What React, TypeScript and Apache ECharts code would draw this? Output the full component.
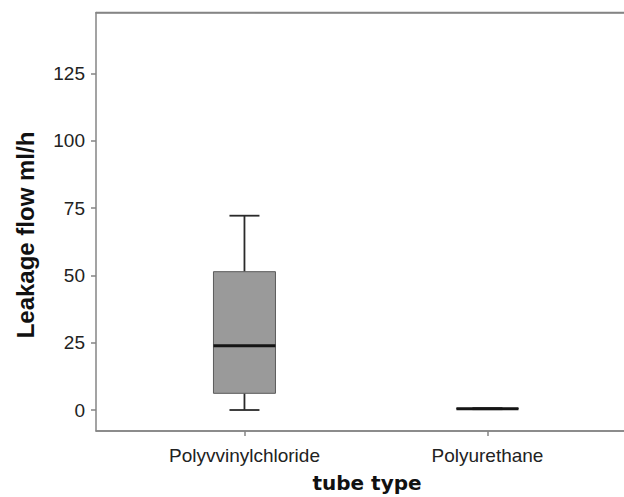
import React, { useEffect, useRef } from "react";
import * as echarts from "echarts";

const categories = ["Polyvvinylchloride", "Polyurethane"];
const whiskerLow = [0, 0.3];
const quartile1 = [6.2, 0.4];
const medians = [23.9, 0.5];
const quartile3 = [51.4, 0.6];
const whiskerHigh = [72.2, 0.7];
const yTicks = [0, 25, 50, 75, 100, 125];
const xTicks = [0, 1];

export default function App() {
  const ref = useRef<HTMLDivElement>(null);
  useEffect(() => {
    if (!ref.current) return;
    const chart = echarts.init(ref.current, undefined, { renderer: "svg" });
    const data = categories.map((_, i) => [
      i,
      whiskerLow[i],
      quartile1[i],
      medians[i],
      quartile3[i],
      whiskerHigh[i],
    ]);
    const axisColor = "#858585";
    const xMin = -0.611;
    const xMax = 1.562;
    const gridLeft = 96;
    const gridTop = 12.5;
    const gridHeight = 418.5;
    chart.setOption({
      animation: false,
      backgroundColor: "#ffffff",
      grid: {
        left: gridLeft,
        top: gridTop,
        right: 0,
        height: gridHeight,
        show: false,
        containLabel: false,
        outerBoundsMode: "none",
      },
      xAxis: [
        {
          type: "value",
          min: xMin,
          max: xMax,
          position: "bottom",
          axisLine: { show: true, onZero: false, lineStyle: { color: axisColor, width: 1.5 } },
          axisTick: { show: true, length: 5, customValues: xTicks, lineStyle: { color: axisColor, width: 1.5 } },
          axisLabel: {
            customValues: xTicks,
            formatter: (v: number) => categories[Math.round(v)] ?? "",
            margin: 15,
            color: "#222",
            fontFamily: "Liberation Sans",
            fontSize: 19,
          },
          splitLine: { show: false },
        },
        {
          type: "value",
          min: xMin,
          max: xMax,
          position: "top",
          axisLine: { show: true, onZero: false, lineStyle: { color: axisColor, width: 1.5 } },
          axisTick: { show: false },
          axisLabel: { show: false },
          splitLine: { show: false },
        },
      ],
      yAxis: {
        type: "value",
        min: -7.8,
        max: 147.7,
        axisLine: { show: true, onZero: false, lineStyle: { color: axisColor, width: 1.5 } },
        axisTick: { show: true, length: 5, customValues: yTicks, lineStyle: { color: axisColor, width: 1.5 } },
        axisLabel: {
          customValues: yTicks,
          margin: 11,
          color: "#222",
          fontFamily: "Liberation Sans",
          fontSize: 19,
        },
        splitLine: { show: false },
      },
      graphic: [
        {
          type: "line",
          shape: { x1: gridLeft, y1: gridTop, x2: 624, y2: gridTop },
          style: { stroke: axisColor, lineWidth: 1.5 },
        },
        {
          type: "line",
          shape: { x1: gridLeft, y1: gridTop + gridHeight, x2: 624, y2: gridTop + gridHeight },
          style: { stroke: axisColor, lineWidth: 1.5 },
        },
        {
          type: "text",
          x: 25,
          y: 235,
          rotation: Math.PI / 2,
          style: {
            text: "Leakage flow ml/h",
            fontFamily: "Liberation Sans",
            fontWeight: "bold",
            fontSize: 24,
            fill: "#111",
            textAlign: "center",
            textVerticalAlign: "middle",
          },
        },
        {
          type: "text",
          x: 367,
          y: 483,
          style: {
            text: "tube type",
            fontFamily: "DejaVu Sans",
            fontWeight: "bold",
            fontSize: 20,
            fill: "#111",
            textAlign: "center",
            textVerticalAlign: "middle",
          },
        },
      ],
      series: [
        {
          type: "custom",
          xAxisIndex: 0,
          data,
          encode: { x: 0, y: [1, 2, 3, 4, 5] },
          renderItem: (params: any, api: any) => {
            const cat = api.value(0);
            const pLow = api.coord([cat, api.value(1)]);
            const pQ1 = api.coord([cat, api.value(2)]);
            const pMed = api.coord([cat, api.value(3)]);
            const pQ3 = api.coord([cat, api.value(4)]);
            const pHigh = api.coord([cat, api.value(5)]);
            const cx = pMed[0];
            const boxW = 62;
            const capW = 30;
            const lineStyle = { stroke: "#2a2a2a", lineWidth: 1.8 };
            return {
              type: "group",
              children: [
                {
                  type: "line",
                  shape: { x1: cx, y1: pQ3[1], x2: cx, y2: pHigh[1] },
                  style: lineStyle,
                },
                {
                  type: "line",
                  shape: { x1: cx, y1: pQ1[1], x2: cx, y2: pLow[1] },
                  style: lineStyle,
                },
                {
                  type: "line",
                  shape: { x1: cx - capW / 2, y1: pHigh[1], x2: cx + capW / 2, y2: pHigh[1] },
                  style: lineStyle,
                },
                {
                  type: "line",
                  shape: { x1: cx - capW / 2, y1: pLow[1], x2: cx + capW / 2, y2: pLow[1] },
                  style: lineStyle,
                },
                {
                  type: "rect",
                  shape: { x: cx - boxW / 2, y: pQ3[1], width: boxW, height: pQ1[1] - pQ3[1] },
                  style: { fill: "#9a9a9a", stroke: "#5a5a5a", lineWidth: 1 },
                },
                {
                  type: "line",
                  shape: { x1: cx - boxW / 2, y1: pMed[1], x2: cx + boxW / 2, y2: pMed[1] },
                  style: { stroke: "#151515", lineWidth: 3 },
                },
              ],
            };
          },
        },
      ],
    });
    return () => chart.dispose();
  }, []);
  return (
    <div
      ref={ref}
      style={{ position: "absolute", left: 0, top: 0, width: 624, height: 497 }}
    />
  );
}
